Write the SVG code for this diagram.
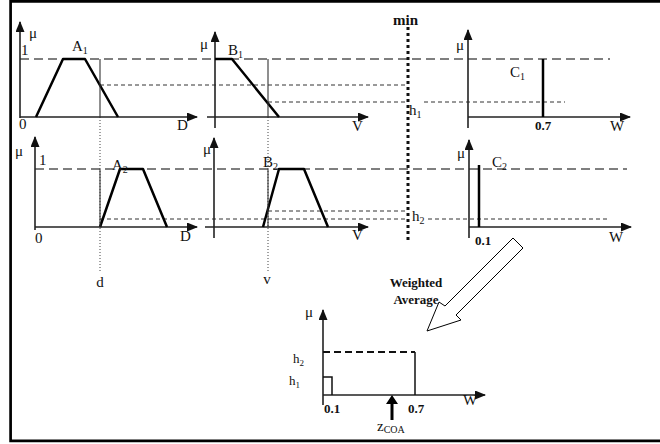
<svg xmlns="http://www.w3.org/2000/svg" width="660" height="444" viewBox="0 0 660 444">
<style>
text{font-family:"Liberation Serif","Times New Roman",serif;fill:#111}
.lbl{font-size:15px}
.sub{font-size:10px}
.bold{font-weight:bold;font-size:13px}
.axis{stroke:#222;stroke-width:1.6;fill:none}
.mf{stroke:#000;stroke-width:2.5;fill:none;stroke-linejoin:round}
.thin{stroke:#333;stroke-width:1.1;fill:none}
.dot{stroke:#444;stroke-width:1;stroke-dasharray:1 2;fill:none}
.ld{stroke:#555;stroke-width:1.3;stroke-dasharray:9 5;fill:none}
.sd{stroke:#333;stroke-width:1;stroke-dasharray:4 3;fill:none}
</style>
<defs>
<marker id="ah" markerUnits="userSpaceOnUse" markerWidth="11" markerHeight="9" refX="10" refY="4.5" orient="auto">
<path d="M0,0 L11,4.5 L0,9 z" fill="#111"/>
</marker>
</defs>
<path d="M660,1.35 H10.6 V440.8 H660" fill="none" stroke="#000" stroke-width="2.7"/>

<g id="guides">
<line class="ld" x1="20" y1="59" x2="610" y2="59"/>
<line class="ld" x1="35" y1="169" x2="627" y2="169"/>
<line class="sd" x1="100" y1="85" x2="405" y2="85"/>
<line class="sd" x1="268" y1="102" x2="408" y2="102"/>
<line class="sd" x1="424" y1="102" x2="565" y2="102"/>
<line class="sd" x1="268" y1="211" x2="405" y2="211"/>
<line class="sd" x1="100" y1="219" x2="408" y2="219"/>
<line class="sd" x1="428" y1="219" x2="608" y2="219"/>
<line class="dot" x1="100" y1="117" x2="100" y2="273"/>
<line class="dot" x1="268" y1="117" x2="268" y2="273"/>
<line x1="408" y1="27" x2="408" y2="243" stroke="#111" stroke-width="3" stroke-dasharray="3 3"/>
<text x="393" y="25" style="font-size:15px;font-weight:bold">min</text>
<text x="409" y="115" class="lbl">h<tspan class="sub" dy="3">1</tspan></text>
<text x="412" y="221" class="lbl">h<tspan class="sub" dy="3">2</tspan></text>
<text x="100" y="287" class="lbl" text-anchor="middle">d</text>
<text x="267" y="284" class="lbl" text-anchor="middle">v</text>
</g>

<g id="panelA1">
<line class="axis" x1="20" y1="118" x2="20" y2="22" marker-end="url(#ah)"/>
<line class="axis" x1="20" y1="117" x2="197" y2="117" marker-end="url(#ah)"/>
<polyline class="mf" points="36,117 63,59 85,59 118,117"/>
<line class="thin" x1="100" y1="59" x2="100" y2="117"/>
<text x="29" y="38" class="lbl">μ</text>
<text x="21" y="55" class="lbl">1</text>
<text x="19" y="129" class="lbl">0</text>
<text x="177" y="130" class="lbl">D</text>
<text x="72" y="51" class="lbl">A<tspan class="sub" dy="3">1</tspan></text>
</g>

<g id="panelB1">
<line class="axis" x1="215" y1="128" x2="215" y2="32" marker-end="url(#ah)"/>
<line class="axis" x1="207" y1="117" x2="368" y2="117" marker-end="url(#ah)"/>
<polyline class="mf" points="215,59 232,59 279,117"/>
<line class="thin" x1="268" y1="59" x2="268" y2="117"/>
<text x="200" y="49" class="lbl">μ</text>
<text x="228" y="55" class="lbl">B<tspan class="sub" dy="3">1</tspan></text>
<text x="352" y="131" class="lbl">V</text>
</g>

<g id="panelC1">
<line class="axis" x1="468" y1="128" x2="468" y2="30" marker-end="url(#ah)"/>
<line class="axis" x1="468" y1="117" x2="630" y2="117" marker-end="url(#ah)"/>
<line class="mf" x1="543" y1="59" x2="543" y2="117"/>
<text x="456" y="50" class="lbl">μ</text>
<text x="510" y="77" class="lbl">C<tspan class="sub" dy="3">1</tspan></text>
<text x="543" y="130" class="bold" text-anchor="middle">0.7</text>
<text x="610" y="131" class="lbl">W</text>
</g>

<g id="panelA2">
<line class="axis" x1="35" y1="230" x2="35" y2="137" marker-end="url(#ah)"/>
<line class="axis" x1="35" y1="227" x2="197" y2="227" marker-end="url(#ah)"/>
<polyline class="mf" points="100,227 120,169 143,169 167,227"/>
<line class="thin" x1="100" y1="169" x2="100" y2="227"/>
<text x="15" y="156" class="lbl">μ</text>
<text x="39" y="165" class="lbl">1</text>
<text x="35" y="243" class="lbl">0</text>
<text x="180" y="241" class="lbl">D</text>
<text x="112" y="170" class="lbl">A<tspan class="sub" dy="3">2</tspan></text>
</g>

<g id="panelB2">
<line class="axis" x1="214" y1="238" x2="214" y2="138" marker-end="url(#ah)"/>
<line class="axis" x1="205" y1="227" x2="368" y2="227" marker-end="url(#ah)"/>
<polyline class="mf" points="263,227 279,169 304,169 328,227"/>
<line class="thin" x1="268" y1="169" x2="268" y2="227"/>
<text x="203" y="154" class="lbl">μ</text>
<text x="263" y="167" class="lbl">B<tspan class="sub" dy="3">2</tspan></text>
<text x="352" y="240" class="lbl">V</text>
</g>

<g id="panelC2">
<line class="axis" x1="469" y1="238" x2="469" y2="140" marker-end="url(#ah)"/>
<line class="axis" x1="469" y1="227" x2="631" y2="227" marker-end="url(#ah)"/>
<line class="mf" x1="479" y1="165" x2="479" y2="227"/>
<text x="457" y="158" class="lbl">μ</text>
<text x="492" y="167" class="lbl">C<tspan class="sub" dy="3">2</tspan></text>
<text x="475" y="245" class="bold">0.1</text>
<text x="609" y="242" class="lbl">W</text>
</g>

<g id="aggregation-arrow">
<polygon points="513,238 523,248 456,315 461,320 427,331 439,302 445,306" fill="#fff" stroke="#000" stroke-width="1"/>
<text x="416" y="287" class="bold" text-anchor="middle">Weighted</text>
<text x="416" y="304" class="bold" text-anchor="middle">Average</text>
</g>

<g id="panelResult">
<line class="axis" x1="323" y1="405" x2="323" y2="310" marker-end="url(#ah)"/>
<line class="axis" x1="323" y1="395" x2="485" y2="395" marker-end="url(#ah)"/>
<line x1="323" y1="352" x2="415" y2="352" stroke="#111" stroke-width="2" stroke-dasharray="7 4"/>
<line x1="415" y1="352" x2="415" y2="395" stroke="#111" stroke-width="1.5"/>
<polyline points="323,377 332,377 332,395" fill="none" stroke="#111" stroke-width="1.5"/>
<polygon points="390.5,420 393.5,420 393.5,404 398,404 392,395 386,404 390.5,404" fill="#000"/>
<text x="305" y="317" class="lbl">μ</text>
<text x="293" y="363" style="font-size:13px">h<tspan style="font-size:9px" dy="3">2</tspan></text>
<text x="289" y="385" style="font-size:13px">h<tspan style="font-size:9px" dy="3">1</tspan></text>
<text x="324" y="413" class="bold">0.1</text>
<text x="408" y="413" class="bold">0.7</text>
<text x="463" y="405" class="lbl">W</text>
<text x="377" y="431" class="lbl">z<tspan style="font-size:10px" dy="2">COA</tspan></text>
</g>
</svg>
